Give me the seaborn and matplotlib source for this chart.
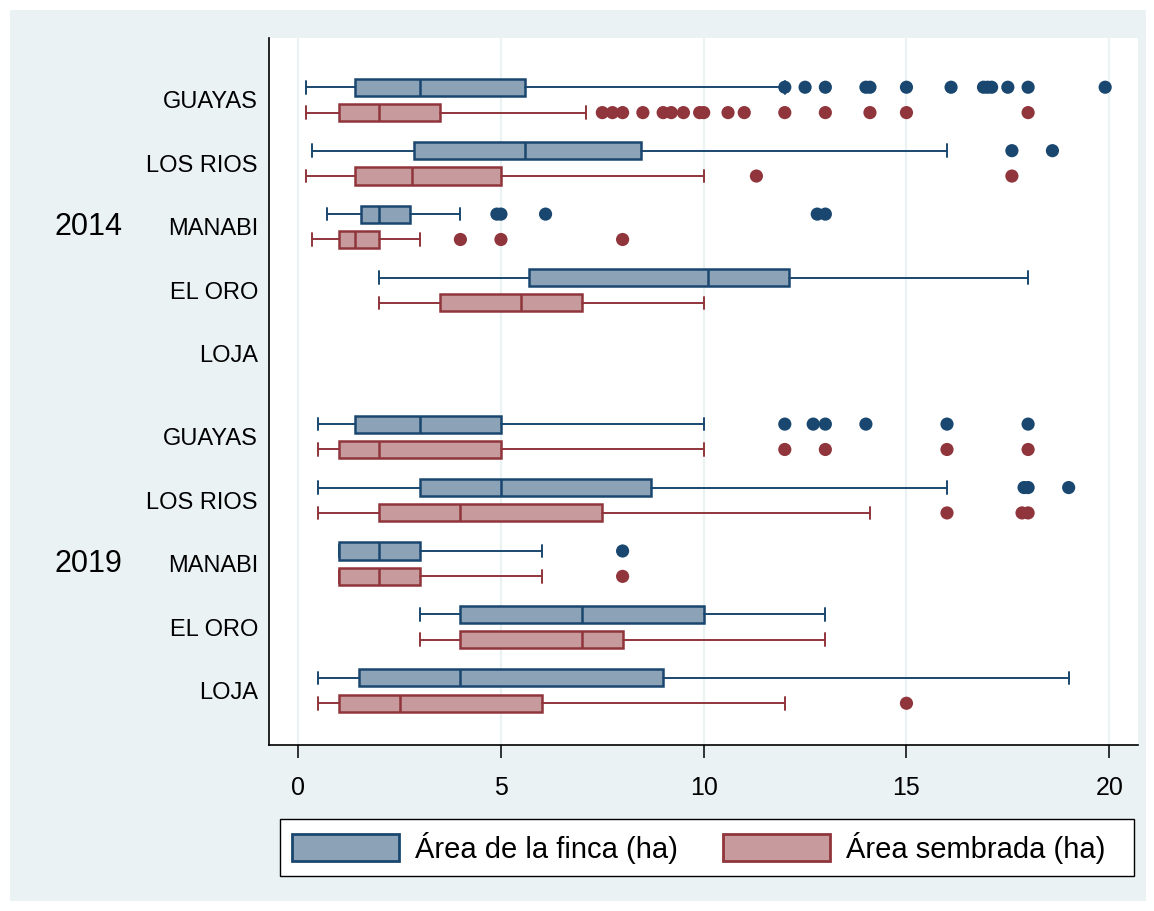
import numpy as np
import pandas as pd
import matplotlib
matplotlib.use("Agg")
import matplotlib.pyplot as plt
import matplotlib.transforms as mtransforms
from matplotlib.patches import Patch, Rectangle
import seaborn as sns

# ---------------- data ----------------
years = ["2014", "2019"]
provinces = ["GUAYAS", "LOS RIOS", "MANABI", "EL ORO", "LOJA"]
series_names = ["Área de la finca (ha)", "Área sembrada (ha)"]

# (lower whisker, Q1, median, Q3, upper whisker); None = no data
finca_2014 = [(0.2, 1.4, 3.0, 5.6, 12.0), (0.35, 2.85, 5.6, 8.45, 16.0),
              (0.7, 1.55, 2.0, 2.75, 4.0), (2.0, 5.7, 10.1, 12.1, 18.0), None]
sembrada_2014 = [(0.2, 1.0, 2.0, 3.5, 7.1), (0.2, 1.4, 2.8, 5.0, 10.0),
                 (0.35, 1.0, 1.4, 2.0, 3.0), (2.0, 3.5, 5.5, 7.0, 10.0), None]
finca_2019 = [(0.5, 1.4, 3.0, 5.0, 10.0), (0.5, 3.0, 5.0, 8.7, 16.0),
              (1.0, 1.0, 2.0, 3.0, 6.0), (3.0, 4.0, 7.0, 10.0, 13.0),
              (0.5, 1.5, 4.0, 9.0, 19.0)]
sembrada_2019 = [(0.5, 1.0, 2.0, 5.0, 10.0), (0.5, 2.0, 4.0, 7.5, 14.1),
                 (1.0, 1.0, 2.0, 3.0, 6.0), (3.0, 4.0, 7.0, 8.0, 13.0),
                 (0.5, 1.0, 2.5, 6.0, 12.0)]

finca_2014_out = [[12.0, 12.5, 13.0, 14.0, 14.1, 15.0, 16.1, 16.9, 17.0, 17.1, 17.5, 18.0, 19.9],
                  [17.6, 18.6], [4.9, 5.0, 6.1, 12.8, 13.0], [], []]
sembrada_2014_out = [[7.5, 7.75, 8.0, 8.5, 9.0, 9.2, 9.5, 9.9, 10.0, 10.6, 11.0, 12.0, 13.0, 14.1, 15.0, 18.0],
                     [11.3, 17.6], [4.0, 5.0, 8.0], [], []]
finca_2019_out = [[12.0, 12.7, 13.0, 14.0, 16.0, 18.0], [17.9, 18.0, 19.0], [8.0], [], []]
sembrada_2019_out = [[12.0, 13.0, 16.0, 18.0], [16.0, 17.85, 18.0], [8.0], [], [15.0]]

xticks = [0, 5, 10, 15, 20]

# ---------------- style ----------------
sns.set_theme(style="white")
plt.rcParams['font.family'] = ['Liberation Sans', 'DejaVu Sans']
plt.rcParams['text.color'] = 'black'
plt.rcParams['xtick.color'] = 'black'
plt.rcParams['ytick.color'] = 'black'

BLUE, BLUE_F = "#1a476f", "#8ca3b7"
RED, RED_F = "#90353b", "#c79a9d"
BG = "#eaf2f3"

W, H = 1154, 911
fig = plt.figure(figsize=(W / 100, H / 100), dpi=100, facecolor="white")
fig.patches.append(Rectangle((10 / W, 10 / H), (1146 - 10) / W, (901 - 10) / H,
                             transform=fig.transFigure, facecolor=BG,
                             edgecolor="none", zorder=-10))
# legend frame (drawn below the axes, which hold the legend entries)
fig.patches.append(Rectangle((280 / W, 1 - 876 / H), (1134 - 280) / W, (876 - 819) / H,
                             transform=fig.transFigure, facecolor="white",
                             edgecolor="black", linewidth=1.0, zorder=-5))
ax = fig.add_axes([269 / W, 1 - 745 / H, (1138 - 269) / W, (745 - 38) / H])
ax.set_facecolor("white")

n = len(provinces)
gap = 0.31


def center(g, i):
    return g * (n + gap) + i


stats_by_series = [[finca_2014, finca_2019], [sembrada_2014, sembrada_2019]]
outs_by_series = [[finca_2014_out, finca_2019_out], [sembrada_2014_out, sembrada_2019_out]]
offsets = [-0.2, 0.2]
edge_cols = [BLUE, RED]
fill_cols = [BLUE_F, RED_F]

rows = []
for s in range(2):
    stats, pos = [], []
    for g in range(2):
        for i in range(n):
            st = stats_by_series[s][g][i]
            if st is not None:
                lo, q1, med, q3, hi = st
                stats.append(dict(whislo=lo, q1=q1, med=med, q3=q3, whishi=hi, fliers=[]))
                pos.append(center(g, i) + offsets[s])
            for v in outs_by_series[s][g][i]:
                rows.append(dict(value=v, pos=center(g, i) + offsets[s], series=series_names[s]))
    ax.bxp(stats, positions=pos, orientation="horizontal", widths=0.27,
           patch_artist=True, showfliers=False, capwidths=0.2,
           boxprops=dict(facecolor=fill_cols[s], edgecolor=edge_cols[s], linewidth=1.8),
           medianprops=dict(color=edge_cols[s], linewidth=1.8),
           whiskerprops=dict(color=edge_cols[s], linewidth=1.4),
           capprops=dict(color=edge_cols[s], linewidth=1.4), manage_ticks=False)

df = pd.DataFrame(rows)
sns.scatterplot(data=df, x="value", y="pos", hue="series",
                palette={series_names[0]: BLUE, series_names[1]: RED},
                s=90, linewidth=0, legend=False, ax=ax, zorder=5)

# axes
ax.set_xlim(-0.72, 20.71)
ax.set_ylim(center(1, n - 1) + 0.858, -0.976)
ax.set_xticks(xticks)
ax.set_xticklabels([str(t) for t in xticks])
ax.set_yticks([center(g, i) for g in range(2) for i in range(n)])
ax.set_yticklabels(provinces * 2)
ax.set_xlabel("")
ax.set_ylabel("")
ax.tick_params(axis="y", length=0, pad=8, labelsize=17, labelcolor="black")
ax.tick_params(axis="x", length=9, width=1.1, pad=13, labelsize=18, color="black",
               labelcolor="black", bottom=True)
ax.grid(axis="x", color=BG, linewidth=1.6)
ax.grid(axis="y", visible=False)
ax.set_axisbelow(True)
for sp in ["top", "right"]:
    ax.spines[sp].set_visible(False)
for sp in ["left", "bottom"]:
    ax.spines[sp].set_color("black")
    ax.spines[sp].set_linewidth(1.2)

trans = mtransforms.blended_transform_factory(fig.transFigure, ax.transData)
for g, yr in enumerate(years):
    ax.text(55 / W, center(g, 2), yr, transform=trans, ha="left", va="center",
            fontsize=22, color="black")

handles = [Patch(facecolor=fill_cols[s], edgecolor=edge_cols[s], linewidth=2,
                 label=series_names[s]) for s in range(2)]
leg = ax.legend(handles=handles, loc="center left", ncol=2,
                bbox_to_anchor=(292 / W, 1 - 847.5 / H),
                bbox_transform=fig.transFigure, frameon=False,
                fontsize=21, handlelength=3.66, handleheight=1.03,
                handletextpad=0.55, columnspacing=1.55, borderpad=0, borderaxespad=0)
for t in leg.get_texts():
    t.set_color("black")

fig.savefig("out.png", dpi=100, facecolor="white")
